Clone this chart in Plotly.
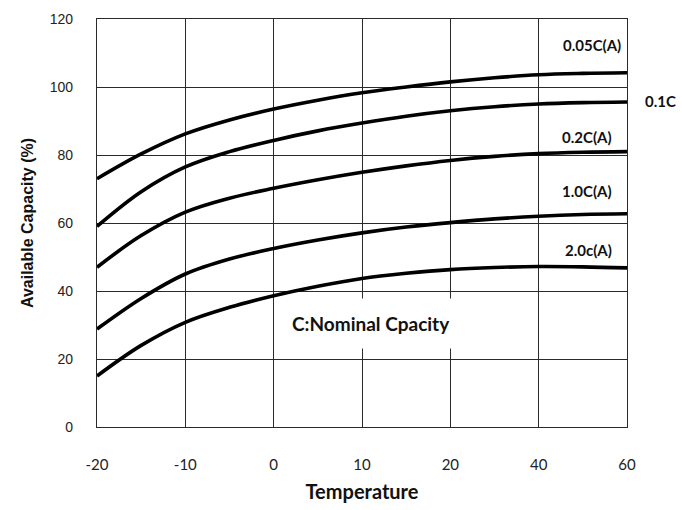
import plotly.graph_objects as go

# Temperature categories (equally spaced on the chart)
temp_labels = ["-20", "-10", "0", "10", "20", "40", "60"]
# readings taken at every half category step (index positions)
temp_pos = [0, 0.5, 1, 1.5, 2, 2.5, 3, 3.5, 4, 4.5, 5, 5.5, 6]

cap_005C = [73.0, 80.3, 86.2, 90.3, 93.5, 96.1, 98.3, 100.0, 101.5, 102.7, 103.6, 104.0, 104.2]
cap_01C = [59.0, 69.2, 76.5, 81.0, 84.3, 87.1, 89.4, 91.4, 93.0, 94.2, 95.0, 95.4, 95.6]
cap_02C = [47.0, 56.3, 63.2, 67.3, 70.2, 72.7, 74.9, 76.8, 78.4, 79.6, 80.4, 80.8, 81.0]
cap_10C = [28.8, 37.8, 45.0, 49.4, 52.5, 55.0, 57.1, 58.8, 60.1, 61.2, 62.0, 62.5, 62.7]
cap_20C = [15.0, 24.0, 30.8, 35.2, 38.6, 41.4, 43.7, 45.2, 46.3, 46.9, 47.2, 47.1, 46.8]

series = [
    ("0.05C(A)", cap_005C),
    ("0.1C", cap_01C),
    ("0.2C(A)", cap_02C),
    ("1.0C(A)", cap_10C),
    ("2.0c(A)", cap_20C),
]

y_ticks = [0, 20, 40, 60, 80, 100, 120]

fig = go.Figure()
for name, vals in series:
    fig.add_trace(go.Scatter(
        x=temp_pos, y=vals, mode="lines", name=name,
        line=dict(color="black", width=3.6, shape="spline", smoothing=1.0),
        showlegend=False, hoverinfo="skip",
    ))

label_font = dict(family="Lato", size=15, color="#111111")
labels = [
    ("0.05C(A)", 5.95, 112.4),
    ("0.2C(A)", 5.85, 85.3),
    ("1.0C(A)", 5.85, 69.5),
    ("2.0c(A)", 5.85, 52.0),
]
for text, x, y in labels:
    fig.add_annotation(x=x, y=y, text="<b>%s</b>" % text, showarrow=False,
                       xanchor="right", yanchor="middle", font=label_font)
fig.add_annotation(xref="paper", x=1.03, y=96.0, text="<b>0.1C</b>", showarrow=False,
                   xanchor="left", yanchor="middle", font=label_font)

fig.add_annotation(x=3.1, y=30.5, text="<b>C:Nominal Cpacity</b>", showarrow=False,
                   xanchor="center", yanchor="middle",
                   font=dict(family="Lato", size=19, color="#111111"),
                   bgcolor="white", borderpad=13)

fig.update_xaxes(
    range=[0, 6], tickvals=list(range(7)), ticktext=temp_labels,
    showgrid=True, gridcolor="#2a2a2a", gridwidth=1.2,
    showline=True, linecolor="#2a2a2a", linewidth=1.2, mirror=True,
    zeroline=False, ticks="", ticklabelstandoff=24,
    tickfont=dict(family="Lato", size=15, color="#222222"),
    title=dict(text="<b>Temperature</b>", font=dict(family="Lato", size=20, color="#111111"),
               standoff=12),
)
fig.update_yaxes(
    range=[0, 120], tickvals=y_ticks,
    showgrid=True, gridcolor="#2a2a2a", gridwidth=1.2,
    showline=True, linecolor="#2a2a2a", linewidth=1.2, mirror=True,
    zeroline=False, ticks="", ticklabelstandoff=20,
    tickfont=dict(family="Liberation Sans", size=14, color="#222222"),
    title=dict(text="<b>Available Capacity (%)</b>",
               font=dict(family="Liberation Sans", size=16, color="#111111"),
               standoff=12),
)

fig.update_layout(
    width=682, height=510,
    margin=dict(l=97, r=55, t=11, b=75),
    paper_bgcolor="white", plot_bgcolor="white",
)

fig.write_html("out.html")
